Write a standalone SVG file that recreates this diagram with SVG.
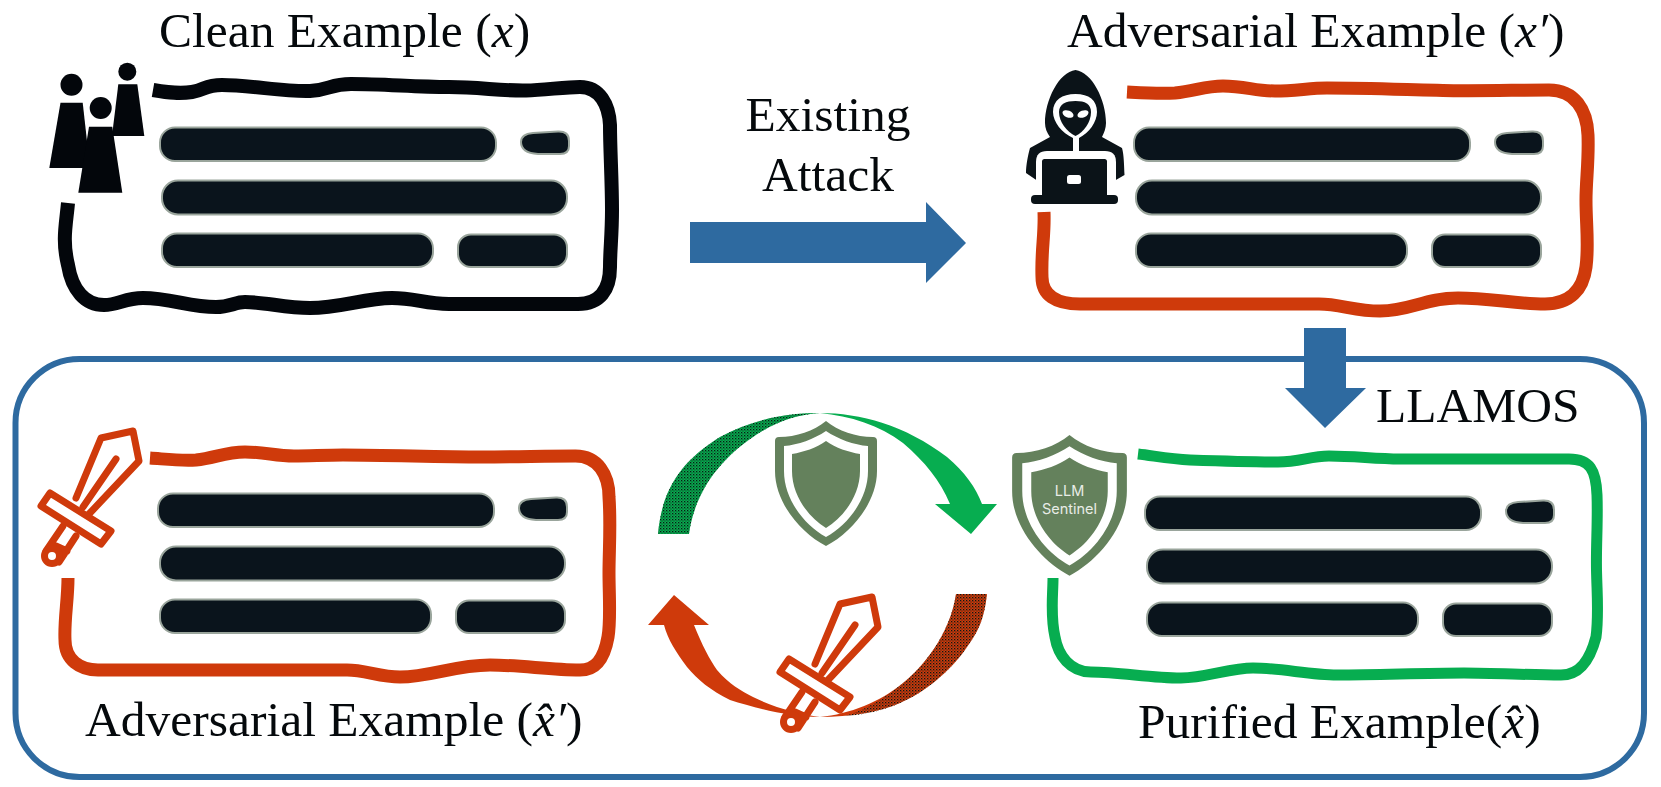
<svg xmlns="http://www.w3.org/2000/svg" xmlns:xlink="http://www.w3.org/1999/xlink" width="1661" height="787" viewBox="0 0 1661 787">
<style>
text{font-family:"Liberation Serif","Times New Roman",serif;font-size:49.5px;fill:#05090c}
.m{font-style:italic}
.frame{fill:none;stroke-width:13;stroke-linejoin:round}
.bar{fill:#0a141c;stroke:#9aa59c;stroke-width:2}
.sw{stroke:#cf3a0b;stroke-width:7;stroke-linejoin:round;fill:#fff;stroke-linecap:round}
.blue{fill:#2e6aa0}
.sh{fill:#64815c}
</style>
<defs>
<pattern id="dots" width="3" height="3" patternUnits="userSpaceOnUse"><rect x="0" y="0" width="1.3" height="1.3" fill="#0a1a14"/><rect x="1.5" y="1.5" width="1" height="1" fill="#0a1a14"/></pattern>
<g id="bars">
<rect class="bar" x="160" y="127.5" width="336" height="33.5" rx="15"/>
<path class="bar" d="M533,133L558,131.5Q569,131 569,141L569,146Q569,154 560,154L538,154Q521,153 521,142Q521,134 533,133Z"/>
<rect class="bar" x="162" y="180.5" width="405" height="34" rx="16"/>
<rect class="bar" x="162" y="233.500" width="271" height="33.500" rx="15"/>
<rect class="bar" x="458" y="234.500" width="109" height="32.500" rx="13"/>
</g>
<g id="shield">
<path class="sh" d="M0,0C12,10 30,16 47,16Q51,16 51,20L51,50C51,82 25,112 0,125C-25,112-51,82-51,50L-51,20Q-51,16-47,16C-30,16-12,10 0,0Z"/>
<path fill="#fff" d="M0,10C12,18 28,24 42,25L42,50C42,78 22,104 0,116C-22,104-42,78-42,50L-42,25C-28,24-12,18 0,10Z"/>
<path class="sh" d="M0,20C10,27 22,31 34,33L34,50C34,74 18,96 0,107C-18,96-34,74-34,50L-34,33C-22,31-10,27 0,20Z"/>
</g>
<g id="sword">
<path class="sw" d="M815,664L840,604L872,597L878,627L828,680"/>
<path class="sw" d="M855,625L822,673" stroke-width="5" fill="none"/>
<path class="sw" d="M802,692L785,717M815,702L798,728M795,712L806,717" fill="none"/>
<circle class="sw" cx="791" cy="722" r="7.500"/>
<path class="sw" d="M789,659L850,697L840,710L780,672Z"/>
</g>
</defs>
<g id="container">
<rect x="15.500" y="359" width="1628.500" height="418" rx="64" ry="64" fill="#fff" stroke="#2e6aa0" stroke-width="6"/>
</g>
<g id="connectors">
<path id="attack-arrow" class="blue" d="M690,222H926V202L966,243L926,283V263H690Z"/>
<path id="llamos-arrow" class="blue" d="M1304,328H1346V388H1366L1325,428L1285,388H1304Z"/>
<path id="purify-arrow" fill="#07ad50" d="M658,534C662,490 680,462 720,437C755,418 790,413 820,413C860,413 905,425 947,457C965,472 976,488 982,504H997L971,534L935,504H950C940,480 925,462 903,443C880,425 850,416 820,413C795,415 775,422 753,437C722,458 695,490 689,534Z"/>
<path fill="url(#dots)" d="M658,534C662,490 680,462 720,437C755,418 790,413 820,413C795,415 775,422 753,437C722,458 695,490 689,534Z"/>
<path id="attack-loop-arrow" fill="#cf3a0b" d="M987,594C984,620 978,632 967,647C950,672 925,692 900,703C880,712 850,717 820,717C790,717 755,708 730,700C710,690 698,680 687,667C676,652 668,640 664,625H648L674,595L709,625H694C702,645 710,660 717,670C730,685 740,690 753,697C775,708 800,714 820,717C850,714 880,702 903,683C922,668 950,635 956,594Z"/>
<path fill="url(#dots)" d="M987,594C984,620 978,632 967,647C950,672 925,692 900,703C885,710 865,715 845,716C865,710 885,698 903,683C922,668 950,635 956,594Z"/>
</g>
<g id="clean-example">
<text x="159" y="47">Clean Example (<tspan class="m">x</tspan>)</text>
<path class="frame" stroke="#03060b" style="stroke-width:14" d="M153,90C170,93 180,94 192,92C205,90 205,85 222,85C250,85 285,92 310,91C330,90 330,84 351,84C385,84 415,87 449,87C480,87 500,91 526,90.500C545,90 565,87 580,87C600,87 609,105 610,125C610,150 612,180 612,210C612,235 610,250 610,267C610,290 600,304 578,304C540,304 500,304 449,304C425,304 415,298 392,298C365,298 340,308 310,308C285,308 265,302 245,302C235,302 230,307 216,307C190,307 170,298 143,298C125,298 118,305 104,305C85,305 72,290 68,265C62,240 66,225 68,203"/>
<use href="#bars"/>
<g id="people" fill="#03060b">
<circle cx="71.500" cy="84.700" r="11"/>
<path d="M60.500,102.700H82.700L90,168H49.300Z"/>
<circle cx="127.300" cy="71.700" r="9"/>
<path d="M118.300,84.300H137.300L144.300,136H112Z"/>
<path d="M89,126.700H112.300L122.300,192.700H78.300Z"/>
<circle cx="100.700" cy="108" r="11"/>
</g>
</g>
<g id="adversarial-example">
<text x="1067" y="47">Adversarial Example (<tspan class="m">x′</tspan>)</text>
<path class="frame" stroke="#cf3a0b" d="M1127,92C1145,93 1160,94 1175,93C1195,91 1205,86 1223,86C1245,86 1255,91 1275,91C1295,91 1310,88 1327,88C1370,88 1415,90 1458,90.700C1490,91 1520,90 1549,90C1575,90 1587,110 1588,135C1589,160 1586,180 1586,200C1586,225 1589,245 1586,267C1583,290 1570,304 1545,304C1515,304 1490,298 1458,298C1425,298 1410,311 1380,311C1355,311 1340,304 1319,304C1240,304 1160,304 1080,304C1055,304 1042,295 1042,277C1041,250 1045,235 1044,212"/>
<use href="#bars" x="974"/>
<g id="hacker">
<path fill="#0b1318" d="M1075.500,70C1092,72 1106,100 1106,123C1106,128 1104,133 1102,137L1122,148C1124,155 1124,165 1124.500,175L1115,180.500H1037L1026,173C1026,165 1028,155 1030,148L1050,137C1047,133 1045,128 1045,123C1045,100 1059,72 1075.500,70Z"/>
<path fill="#fff" d="M1036,181V162Q1036,151 1047,151H1105Q1116,151 1116,162V181V196H1036Z"/>
<path fill="#fff" d="M1075.500,94C1062,94 1053,100 1053,112C1053,122 1062,133 1073,138V152H1079V138C1089,133 1097,122 1097,112C1097,100 1089,94 1075.500,94Z"/>
<path fill="#0b1318" d="M1075.500,101C1066,101 1059,104 1059,112C1059,122 1067,132 1075.500,136C1084,132 1091,122 1091,112C1091,104 1085,101 1075.500,101Z"/>
<ellipse cx="1068" cy="114" rx="5.800" ry="3.400" fill="#fff" transform="rotate(22 1068 114)"/>
<ellipse cx="1083" cy="114" rx="5.800" ry="3.400" fill="#fff" transform="rotate(-22 1083 114)"/>
<rect x="1042" y="159" width="65" height="38" rx="2.500" fill="#0b1318"/>
<rect x="1031" y="195" width="87" height="9" rx="4" fill="#0b1318"/>
<rect x="1067" y="175" width="14" height="9" rx="2.500" fill="#fff"/>
</g>
</g>
<g id="attack-label">
<text x="828" y="131" text-anchor="middle">Existing</text>
<text x="828" y="191" text-anchor="middle">Attack</text>
</g>
<g id="llamos-label"><text x="1376" y="422">LLAMOS</text></g>
<g id="adversarial-hat-example">
<path class="frame" stroke="#cf3a0b" d="M150,458C165,459 180,461 196,460C215,458 225,452 245,452C265,452 275,456 294,456C310,456 325,455 343,455C390,455 435,457 482,457C515,457 545,456 575.500,456C598,456 609,475 609,497C611,525 609,550 609,573C609,595 611,620 608,637C604,660 595,670 580,670C550,670 520,665 490,665C455,665 430,677 400,677C380,677 365,670 347,670C265,670 180,670 98,670C80,670 65,660 65,640C64,620 68,600 68,578"/>
<use href="#bars" x="-2" y="366"/>
<use href="#sword" x="-739" y="-166"/>
<text x="85" y="736">Adversarial Example (<tspan class="m">x̂′</tspan>)</text>
</g>
<g id="purified-example">
<path class="frame" stroke="#07ad50" style="stroke-width:11" d="M1138,454C1155,456 1170,459 1190,460C1220,461 1250,462 1278,462C1300,462 1310,456 1329,456C1355,456 1375,459 1400,459C1455,459 1515,459 1569,459C1590,459 1596,470 1597,495C1598,520 1596,545 1596.500,570C1597,595 1599,615 1596,637C1590,660 1580,675 1561,675C1530,675 1495,673 1464,673C1420,673 1380,675 1337,675C1310,675 1280,668 1253,668C1230,668 1205,678 1181,678C1150,678 1120,672 1091,672C1070,672 1058,655 1055,637C1050,615 1053,595 1053,578"/>
<use href="#bars" x="985" y="369"/>
<text x="1138" y="738">Purified Example(<tspan class="m">x̂</tspan>)</text>
</g>
<g id="sentinel-center"><use href="#shield" transform="translate(826,421)"/></g>
<g id="sentinel-labelled">
<use href="#shield" transform="translate(1069.500,435) scale(1.125)"/>
<text x="1069.500" y="496" text-anchor="middle" style="font-family:Inter,'Noto Sans',sans-serif;font-size:14.500px;fill:#e8ece6">LLM</text>
<text x="1069.500" y="514" text-anchor="middle" style="font-family:Inter,'Noto Sans',sans-serif;font-size:14.500px;fill:#e8ece6">Sentinel</text>
</g>
<g id="sword-center"><use href="#sword"/></g>
</svg>
